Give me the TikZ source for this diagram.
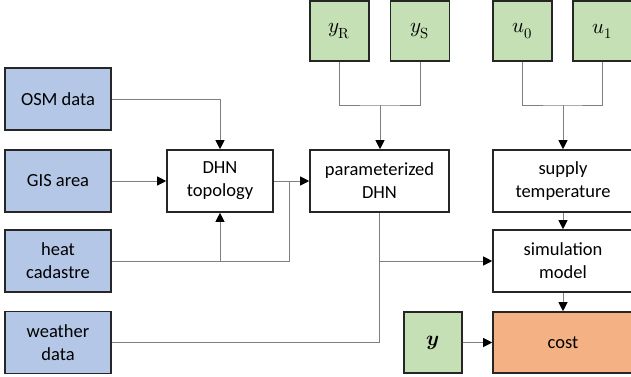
\documentclass[tikz,border=0pt]{standalone}
\usepackage{fontspec}
\usepackage{unicode-math}
\setmainfont{Carlito}
\setmathfont{Latin Modern Math}
\usetikzlibrary{arrows.meta}
\definecolor{inblue}{HTML}{B4C7E7}
\definecolor{ingreen}{HTML}{C5E0B4}
\definecolor{outorange}{HTML}{F4B183}
\definecolor{wire}{HTML}{7F7F7F}
\begin{document}
\begin{tikzpicture}[x=1pt,y=-1pt,
  box/.style={draw=black!85, line width=1.6pt, inner sep=0pt, align=center,
    font=\fontsize{18.5}{23}\selectfont},
  datbox/.style={box, fill=inblue, minimum width=106pt, minimum height=62pt},
  procbox/.style={box, fill=white, minimum height=62pt},
  parbox/.style={box, fill=ingreen, minimum width=59pt, minimum height=60pt,
    font=\fontsize{21}{25}\selectfont},
  wire/.style={draw=wire, line width=0.9pt},
  arr/.style={wire, -{Triangle[length=9pt,width=9pt,color=black]}}]
\useasboundingbox (0,0) rectangle (631,376);

% inputs on the left
\node[datbox] (osm) at (58,99) {OSM data};
\node[datbox] (gis) at (58,181) {GIS area};
\node[datbox] (heat) at (58,261) {heat\\cadastre};
\node[datbox] (weather) at (58,342.5) {weather\\data};

% processing chain
\node[procbox, minimum width=106pt] (topo) at (220,181) {DHN\\topology};
\node[procbox, minimum width=139pt] (param) at (379.5,181) {parameterized\\DHN};
\node[procbox, minimum width=140pt] (supply) at (563,181) {supply\\temperature};
\node[procbox, minimum width=140pt] (sim) at (563,261) {simulation\\model};
\node[box, fill=outorange, minimum width=140pt, minimum height=61pt] (cost) at (563,342.5) {cost};

% parameters
\node[parbox] (yr) at (339.5,31) {$y_{\symup{R}}$};
\node[parbox] (ys) at (420,31) {$y_{\symup{S}}$};
\node[parbox] (u0) at (522.5,31) {$u_0$};
\node[parbox] (u1) at (602.5,31) {$u_1$};
\node[parbox, minimum width=58pt, minimum height=61pt] (yb) at (433,342.5) {$\symbfit{y}$};

% junction points
\coordinate (jr) at (380,105);
\coordinate (ju) at (563,105);
\coordinate (jh) at (289,181);
\coordinate (jw) at (380,261);

% connectors
\draw[arr] (osm.east) -| (topo.north);
\draw[arr] (gis.east) -- (topo.west);
\draw[arr] (heat.east) -| (topo.south);
\draw[wire] (heat.east) -| (jh);
\draw[arr] (topo.east) -- (param.west);
\draw[wire] (weather.east) -| (param.south);
\draw[arr] (jw) -- (jw -| sim.west);
\draw[wire] (yr.south) |- (jr) -| (ys.south);
\draw[arr] (jr) -- (jr |- param.north);
\draw[wire] (u0.south) |- (ju) -| (u1.south);
\draw[arr] (ju) -- (supply.north);
\draw[arr] (supply.south) -- (sim.north);
\draw[arr] (sim.south) -- (cost.north);
\draw[arr] (yb.east) -- (cost.west);
\end{tikzpicture}
\end{document}
